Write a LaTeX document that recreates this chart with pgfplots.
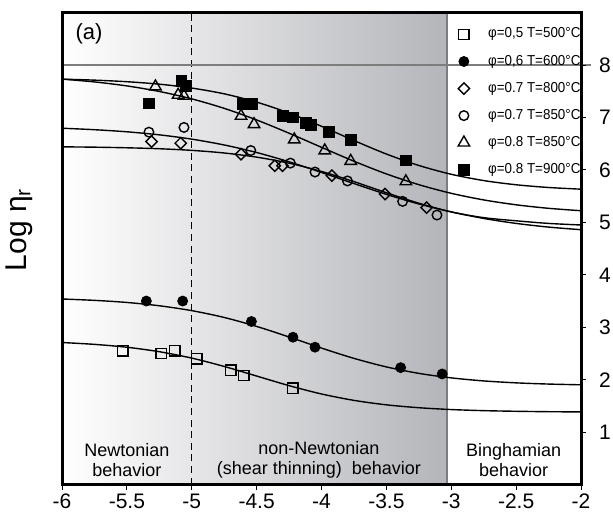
\documentclass[border=0pt]{standalone}
\usepackage{fontspec}
\setmainfont{Liberation Sans}
\usepackage{pgfplots}
\pgfplotsset{compat=1.18}
\usetikzlibrary{calc}
\definecolor{shadeR}{RGB}{180,181,186}
\definecolor{lineG}{RGB}{125,125,125}
\newcommand{\legtxt}[1]{\scalebox{0.93}[1]{#1}}
\begin{document}
\begin{tikzpicture}
\begin{axis}[
  scale only axis, width=259.5pt, height=236pt,
  xmin=-6, xmax=-2, ymin=0, ymax=9,
  xtick={-6,-5.5,-5,-4.5,-4,-3.5,-3,-2.5,-2},
  xticklabels={-6,-5.5,-5,-4.5,-4,-3.5,-3,-2.5,-2},
  ytick={1,2,3,4,5,6,7,8},
  yticklabels={1,2,3,4,5,6,7,8},
  yticklabel pos=right, ytick pos=right, xtick pos=bottom,
  tick align=outside, major tick length=2.5pt,
  tick style={black, line width=0.5pt},
  axis line style={line width=1.5pt},
  axis on top=true,
  ticklabel style={font=\fontsize{10.5}{12}\selectfont},
  yticklabel style={xshift=3pt},
  xticklabel style={yshift=1.5pt},
  ylabel={Log η\textsubscript{r}},
  every axis y label/.style={at={(axis description cs:-0.083,0.54)}, rotate=90, anchor=center, font=\fontsize{15}{18}\selectfont},
  clip=false,
  legend style={draw=none, fill=none, at={(axis cs:-2.965,8.83)}, anchor=north west,
    font=\fontsize{7.2}{8.6}\selectfont, row sep=3.0pt, inner sep=1pt,
    /tikz/every odd column/.append style={column sep=7.3pt}},
  legend cell align=left,
]
% background regions
\fill[left color=white, right color=shadeR] (axis cs:-6,0) rectangle (axis cs:-3.03,9);
\draw[lineG, line width=1pt] (axis cs:-3.03,0) -- (axis cs:-3.03,9);
\draw[black, line width=0.6pt, dash pattern=on 3.5pt off 2.3pt] (axis cs:-5,0) -- (axis cs:-5,9);
\draw[lineG, line width=0.8pt] (axis cs:-6,8) -- (axis cs:-1.92,8);

% fitted curves
\addplot[black, line width=0.7pt, smooth, forget plot] table {
-6 2.709
-5.75 2.674
-5.5 2.619
-5.25 2.534
-5 2.412
-4.75 2.253
-4.5 2.070
-4.25 1.887
-4 1.728
-3.75 1.606
-3.5 1.521
-3.25 1.466
-3 1.431
-2.75 1.410
-2.5 1.398
-2.25 1.390
-2 1.386
};
\addplot[black, line width=0.7pt, smooth, forget plot] table {
-6 3.539
-5.75 3.513
-5.5 3.473
-5.25 3.410
-5 3.317
-4.75 3.187
-4.5 3.016
-4.25 2.815
-4 2.603
-3.75 2.407
-3.5 2.244
-3.25 2.121
-3 2.035
-2.75 1.977
-2.5 1.940
-2.25 1.917
-2 1.903
};
\addplot[black, line width=0.7pt, smooth, forget plot] table {
-6 6.440
-5.75 6.434
-5.5 6.422
-5.25 6.404
-5 6.373
-4.75 6.323
-4.5 6.244
-4.25 6.129
-4 5.971
-3.75 5.777
-3.5 5.565
-3.25 5.365
-3 5.199
-2.75 5.090
-2.5 5.030
-2.25 4.980
-2 4.950
};
\addplot[black, line width=0.7pt, smooth, forget plot] table {
-6 6.795
-5.75 6.767
-5.5 6.727
-5.25 6.669
-5 6.587
-4.75 6.476
-4.5 6.332
-4.25 6.155
-4 5.952
-3.75 5.740
-3.5 5.534
-3.25 5.351
-3 5.200
-2.75 5.075
-2.5 4.980
-2.25 4.910
-2 4.860
};
\addplot[black, line width=0.7pt, smooth, forget plot] table {
-6 7.732
-5.75 7.678
-5.5 7.602
-5.25 7.496
-5 7.355
-4.75 7.174
-4.5 6.953
-4.25 6.700
-4 6.431
-3.75 6.166
-3.5 5.924
-3.25 5.719
-3 5.554
-2.75 5.428
-2.5 5.335
-2.25 5.268
-2 5.222
};
\addplot[black, line width=0.7pt, smooth, forget plot] table {
-6 7.731
-5.75 7.712
-5.5 7.682
-5.25 7.635
-5 7.561
-4.75 7.451
-4.5 7.293
-4.25 7.084
-4 6.832
-3.75 6.561
-3.5 6.303
-3.25 6.085
-3 5.917
-2.75 5.797
-2.5 5.717
-2.25 5.665
-2 5.633
};

% data points
\addplot[only marks, mark=square, mark size=2.6pt, mark options={black, line width=0.7pt}] table {
-5.53 2.55
-5.235 2.50
-5.13 2.55
-4.96 2.40
-4.70 2.18
-4.60 2.08
-4.22 1.84
};
\addlegendentry{\legtxt{φ=0,5 T=500°C}}
\addplot[only marks, mark=*, mark size=2.5pt, mark options={black, fill=black}] table {
-5.35 3.50
-5.07 3.50
-4.54 3.11
-4.22 2.81
-4.05 2.62
-3.39 2.23
-3.07 2.11
};
\addlegendentry{\legtxt{φ=0,6 T=600°C}}
\addplot[only marks, mark=square, mark size=2.0pt, mark options={black, line width=0.7pt, rotate=45}] table {
-5.31 6.54
-5.085 6.51
-4.62 6.30
-4.36 6.08
-4.30 6.08
-3.92 5.89
-3.51 5.54
-3.19 5.28
};
\addlegendentry{\legtxt{φ=0.7 T=800°C}}
\addplot[only marks, mark=o, mark size=2.4pt, mark options={black, line width=0.7pt}] table {
-5.33 6.72
-5.06 6.81
-4.545 6.37
-4.24 6.13
-4.05 5.96
-3.80 5.79
-3.375 5.40
-3.11 5.14
};
\addlegendentry{\legtxt{φ=0.7 T=850°C}}
\addplot[only marks, mark=triangle, mark size=3.3pt, mark options={black, line width=0.7pt}] table {
-5.28 7.59
-5.105 7.43
-5.06 7.41
-4.62 7.03
-4.52 6.87
-4.21 6.58
-3.975 6.37
-3.775 6.17
-3.35 5.78
};
\addlegendentry{\legtxt{φ=0.8 T=850°C}}
\addplot[only marks, mark=square*, mark size=2.7pt, mark options={black, fill=black}] table {
-5.33 7.27
-5.08 7.69
-5.045 7.60
-4.61 7.26
-4.535 7.26
-4.30 7.03
-4.22 7.00
-4.12 6.89
-4.08 6.86
-3.945 6.72
-3.775 6.58
-3.35 6.18
};
\addlegendentry{\legtxt{φ=0.8 T=900°C}}

% annotations
\node[anchor=west, font=\fontsize{11}{13}\selectfont] at (axis cs:-5.95,8.6) {(a)};
\node[align=center, font=\fontsize{9}{10.3}\selectfont] at (axis cs:-5.5,0.47) {Newtonian\\behavior};
\node[align=center, font=\fontsize{9}{10.3}\selectfont] at (axis cs:-4.02,0.47) {non-Newtonian\\(shear thinning)\ \ behavior};
\node[align=center, font=\fontsize{9}{10.3}\selectfont] at (axis cs:-2.52,0.47) {Binghamian\\behavior};
\end{axis}
\pgfresetboundingbox
\path[use as bounding box] ($(current axis.south west)+(-31pt,-14pt)$) rectangle ($(current axis.north east)+(16pt,6.3pt)$);
\end{tikzpicture}
\end{document}
